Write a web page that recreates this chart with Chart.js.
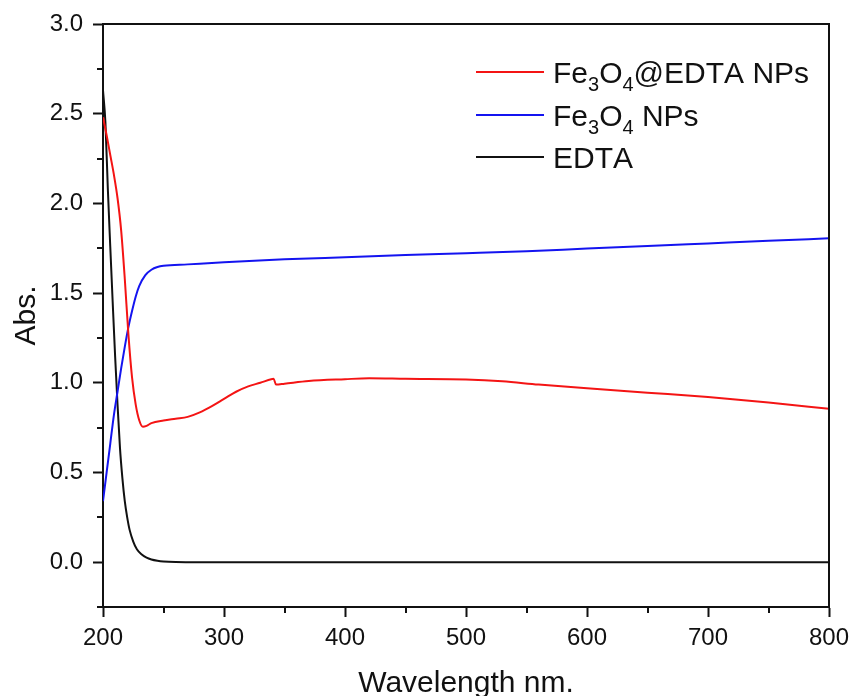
<!DOCTYPE html>
<html>
<head>
<meta charset="utf-8">
<script src="https://cdn.jsdelivr.net/npm/chart.js@4"></script>
<style>
  body { margin: 0; background: #fff; }
</style>
</head>
<body>
<canvas id="uvChart" width="852" height="696"></canvas>
<script>
// wavelengths (nm) and absorbance
const seriesNames = ['Fe₃O₄@EDTA NPs', 'Fe₃O₄ NPs', 'EDTA'];
const seriesColors = ['#f41414', '#1414f0', '#111111'];

const redWl  = [200, 203, 206, 209, 212, 215, 218, 221, 224, 227, 230, 233, 236, 240, 250, 260, 270, 280, 290, 300, 310, 320, 330, 339, 341, 343, 350, 370, 400, 420, 450, 500, 530, 560, 600, 650, 700, 750, 800];
const redAbs = [2.48, 2.38, 2.27, 2.16, 2.03, 1.85, 1.58, 1.27, 1.03, 0.88, 0.79, 0.755, 0.76, 0.775, 0.79, 0.80, 0.81, 0.835, 0.87, 0.91, 0.95, 0.98, 1.0, 1.02, 1.022, 0.99, 0.995, 1.01, 1.02, 1.025, 1.022, 1.018, 1.008, 0.99, 0.97, 0.945, 0.92, 0.89, 0.855];

const blueWl  = [200, 203, 206, 209, 212, 215, 218, 221, 224, 227, 230, 235, 240, 245, 250, 270, 300, 350, 400, 450, 500, 550, 600, 650, 700, 750, 800];
const blueAbs = [0.34, 0.50, 0.66, 0.82, 0.95, 1.08, 1.20, 1.31, 1.40, 1.48, 1.54, 1.60, 1.63, 1.645, 1.652, 1.66, 1.672, 1.688, 1.70, 1.712, 1.722, 1.733, 1.748, 1.762, 1.777, 1.792, 1.805];

const blackWl  = [200, 202, 204, 206, 208, 210, 212, 214, 216, 218, 220, 222, 225, 228, 232, 236, 240, 245, 250, 260, 280, 400, 600, 800];
const blackAbs = [2.63, 2.45, 2.08, 1.76, 1.45, 1.15, 0.88, 0.64, 0.47, 0.34, 0.25, 0.18, 0.115, 0.072, 0.043, 0.025, 0.015, 0.008, 0.004, 0.001, 0, 0, 0, 0];

const xTickStep = 50, yTickStep = 0.25;

function pairs(xs, ys) {
    return xs.map((x, i) => ({x: x, y: ys[i]}));
}

const isMajorX = v => v % 100 === 0;
const isMajorY = v => Math.abs(v * 2 - Math.round(v * 2)) < 1e-6;

// minor ticks, top/right frame and the legend with subscripts
const extras = {
    id: 'extras',
    afterDraw(chart) {
        const c = chart.ctx, a = chart.chartArea;
        const xs = chart.scales.x, ys = chart.scales.y;
        c.save();
        c.strokeStyle = '#111';
        c.lineWidth = 2;
        c.beginPath();
        xs.ticks.forEach(t => {
            if (isMajorX(t.value)) return;
            const px = Math.round(xs.getPixelForValue(t.value));
            c.moveTo(px, a.bottom); c.lineTo(px, a.bottom + 6);
        });
        ys.ticks.forEach(t => {
            if (isMajorY(t.value)) return;
            const py = Math.round(ys.getPixelForValue(t.value));
            c.moveTo(a.left, py); c.lineTo(a.left - 6, py);
        });
        c.moveTo(a.left, a.top); c.lineTo(a.right, a.top); c.lineTo(a.right, a.bottom);
        c.stroke();

        // legend
        const fam = 'Liberation Sans, Arial, sans-serif';
        const rowY = [72, 115, 157];
        chart.data.datasets.forEach((ds, i) => {
            const y = rowY[i];
            c.strokeStyle = ds.borderColor;
            c.lineWidth = 2;
            c.beginPath();
            c.moveTo(476, y); c.lineTo(544, y);
            c.stroke();
            let x = 553;
            c.fillStyle = '#111';
            c.textBaseline = 'alphabetic';
            for (const ch of ds.label) {
                const code = ch.charCodeAt(0);
                if (code >= 0x2080 && code <= 0x2089) {
                    const d = String(code - 0x2080);
                    c.font = '20px ' + fam;
                    c.fillText(d, x, y + 19);
                    x += c.measureText(d).width;
                } else {
                    c.font = '30px ' + fam;
                    c.fillText(ch, x, y + 11);
                    x += c.measureText(ch).width;
                }
            }
        });
        c.restore();
    }
};

Chart.defaults.font.family = 'Liberation Sans, Arial, sans-serif';
Chart.defaults.color = '#111';

const ctx = document.getElementById('uvChart').getContext('2d');
const uvChart = new Chart(ctx, {
    type: 'line',
    data: {
        datasets: [
            {
                label: seriesNames[0],
                data: pairs(redWl, redAbs),
                borderColor: seriesColors[0],
                backgroundColor: seriesColors[0]
            },
            {
                label: seriesNames[1],
                data: pairs(blueWl, blueAbs),
                borderColor: seriesColors[1],
                backgroundColor: seriesColors[1]
            },
            {
                label: seriesNames[2],
                data: pairs(blackWl, blackAbs),
                borderColor: seriesColors[2],
                backgroundColor: seriesColors[2]
            }
        ]
    },
    options: {
        responsive: false,
        animation: false,
        layout: {
            padding: {top: 24, right: 23, left: 0, bottom: 0}
        },
        elements: {
            point: {radius: 0},
            line: {borderWidth: 2, cubicInterpolationMode: 'monotone'}
        },
        plugins: {
            legend: {display: false},
            tooltip: {enabled: false}
        },
        scales: {
            x: {
                type: 'linear',
                min: 200,
                max: 800,
                ticks: {
                    stepSize: xTickStep,
                    autoSkip: false,
                    maxRotation: 0,
                    padding: 7,
                    font: {size: 24},
                    callback: v => isMajorX(v) ? v : ''
                },
                grid: {
                    drawOnChartArea: false,
                    tickLength: 10,
                    tickWidth: 2,
                    tickColor: c => (c.tick && isMajorX(c.tick.value)) ? '#111' : 'rgba(0,0,0,0)'
                },
                border: {color: '#111', width: 2},
                title: {
                    display: true,
                    text: 'Wavelength nm.',
                    font: {size: 30, lineHeight: 0.8},
                    padding: 0
                },
                afterFit: s => { s.height = 89; s.paddingLeft = 0; s.paddingRight = 0; }
            },
            y: {
                min: -0.25,
                max: 3.0,
                ticks: {
                    stepSize: yTickStep,
                    autoSkip: false,
                    padding: 10,
                    font: {size: 24},
                    callback: v => isMajorY(v) ? v.toFixed(1) : ''
                },
                grid: {
                    drawOnChartArea: false,
                    tickLength: 10,
                    tickWidth: 2,
                    tickColor: c => (c.tick && isMajorY(c.tick.value)) ? '#111' : 'rgba(0,0,0,0)'
                },
                border: {color: '#111', width: 2},
                title: {
                    display: true,
                    text: 'Abs.',
                    font: {size: 30, lineHeight: 1.2},
                    padding: {top: 9, bottom: 0}
                },
                afterFit: s => { s.width = 103; s.paddingTop = 0; s.paddingBottom = 0; }
            }
        }
    },
    plugins: [extras]
});
</script>
</body>
</html>
